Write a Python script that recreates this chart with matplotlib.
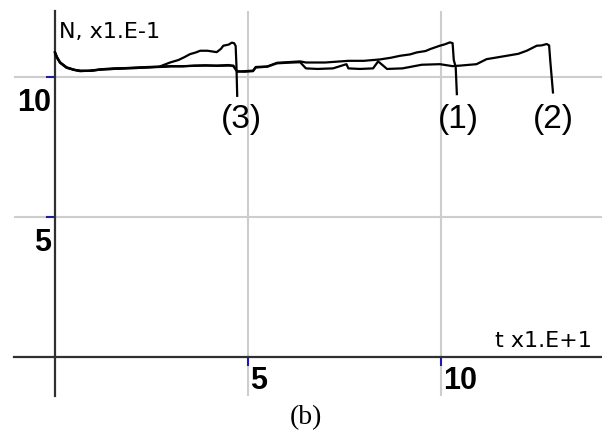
import matplotlib.pyplot as plt

# curve data (t in units of 10, N in units of 0.1)
t1 = [0, 0.05, 0.13, 0.3, 0.5, 0.65, 0.9, 1.2, 1.5, 1.8, 2.1, 2.4, 2.7, 3.0, 3.3, 3.6, 3.9,
      4.2, 4.5, 4.62, 4.72, 4.9, 5.13, 5.2, 5.5, 5.75, 6.0, 6.35, 6.5, 7.0, 7.6, 8.0, 8.42,
      8.7, 8.94, 9.2, 9.37, 9.6, 9.72, 9.97, 10.1, 10.23, 10.3, 10.33, 10.38, 10.41]
N1 = [10.87, 10.7, 10.51, 10.33, 10.25, 10.21, 10.21, 10.26, 10.28, 10.3, 10.32, 10.33, 10.35,
      10.37, 10.38, 10.39, 10.4, 10.4, 10.42, 10.38, 10.18, 10.2, 10.22, 10.35, 10.37, 10.5,
      10.52, 10.55, 10.51, 10.51, 10.57, 10.57, 10.62, 10.68, 10.75, 10.8, 10.87, 10.92, 10.99,
      11.11, 11.16, 11.23, 11.2, 10.6, 10.35, 9.38]

t2 = [0, 0.05, 0.13, 0.3, 0.5, 0.65, 0.9, 1.2, 1.5, 1.8, 2.1, 2.4, 2.7, 3.0, 3.3, 3.6, 3.9,
      4.2, 4.5, 4.62, 4.72, 4.9, 5.13, 5.2, 5.5, 5.75, 6.0, 6.35, 6.5, 6.8, 7.2, 7.55, 7.6,
      7.9, 8.24, 8.37, 8.5, 8.6, 9.0, 9.5, 9.97, 10.3, 10.5, 10.92, 11.18, 11.4, 11.7, 12.0,
      12.22, 12.48, 12.6, 12.74, 12.8, 12.83, 12.9]
N2 = [10.85, 10.68, 10.5, 10.32, 10.24, 10.2, 10.22, 10.27, 10.3, 10.31, 10.33, 10.35, 10.36,
      10.38, 10.37, 10.4, 10.41, 10.39, 10.4, 10.4, 10.2, 10.18, 10.2, 10.33, 10.36, 10.48,
      10.5, 10.52, 10.3, 10.28, 10.3, 10.45, 10.3, 10.28, 10.3, 10.55, 10.4, 10.28, 10.3,
      10.43, 10.45, 10.38, 10.4, 10.45, 10.63, 10.68, 10.75, 10.82, 10.93, 11.11, 11.12,
      11.17, 11.12, 10.57, 9.44]

t3 = [0, 0.05, 0.13, 0.3, 0.5, 0.65, 0.9, 1.2, 1.5, 1.8, 2.1, 2.4, 2.7, 2.98, 3.2, 3.35,
      3.5, 3.65, 3.76, 3.95, 4.19, 4.3, 4.36, 4.5, 4.58, 4.64, 4.68, 4.7, 4.72]
N3 = [10.88, 10.71, 10.52, 10.34, 10.25, 10.22, 10.21, 10.26, 10.28, 10.3, 10.31, 10.34,
      10.36, 10.51, 10.6, 10.7, 10.81, 10.87, 10.93, 10.93, 10.88, 11.0, 11.11, 11.15, 11.22,
      11.2, 11.1, 10.4, 9.32]

curve_labels = ['(1)', '(2)', '(3)']
label_t = [10.45, 12.91, 4.82]
label_N = 8.2

x_ticks = [5, 10]
y_ticks = [5, 10]
x_tick_labels = ['5', '10']
y_tick_labels = ['5', '10']

fig = plt.figure(figsize=(6.02, 4.31), dpi=100)
ax = fig.add_axes([14 / 602, 34 / 431, 588 / 602, 385 / 431])
ax.set_xlim(-1.062, 14.17)
ax.set_ylim(-1.404, 12.35)

# axes through the origin
for side in ['top', 'right']:
    ax.spines[side].set_visible(False)
for side in ['left', 'bottom']:
    ax.spines[side].set_position('zero')
    ax.spines[side].set_color('#303030')
    ax.spines[side].set_linewidth(1.6)
    ax.spines[side].set_zorder(3)

ax.set_xticks(x_ticks)
ax.set_yticks(y_ticks)
ax.tick_params(color='#1c1ca8', length=6.5, width=1.5, direction='out',
               labelleft=False, labelbottom=False)
ax.grid(True, color='#cdcdcd', linewidth=1.5)
ax.set_axisbelow(True)

for t, N in [(t1, N1), (t2, N2), (t3, N3)]:
    ax.plot(t, N, color='black', linewidth=1.6, zorder=4)

tick_font = dict(family=['Liberation Sans Narrow', 'Liberation Sans', 'DejaVu Sans'],
                 fontweight='bold', fontsize=22)
for v, s in zip(y_ticks, y_tick_labels):
    ax.text(-0.1, v - 0.38, s, ha='right', va='top', **tick_font)
for v, s in zip(x_ticks, x_tick_labels):
    ax.text(v + 0.06, -0.28, s, ha='left', va='top', **tick_font)

for s, x in zip(curve_labels, label_t):
    ax.text(x, label_N, s, ha='center', va='baseline', fontsize=24,
            family=['Liberation Sans', 'DejaVu Sans'])

ax.text(0.1, 11.42, 'N, x1.E-1', ha='left', va='baseline', fontsize=16,
        family='DejaVu Sans', fontweight='medium')
ax.text(11.4, 0.38, 't x1.E+1', ha='left', va='baseline', fontsize=16,
        family='DejaVu Sans', fontweight='medium')

fig.text(306 / 602, 1 - 424 / 431, '(b)', ha='center', va='baseline', fontsize=20,
         family=['Liberation Serif', 'DejaVu Serif'])

fig.savefig('out.png', dpi=100)
